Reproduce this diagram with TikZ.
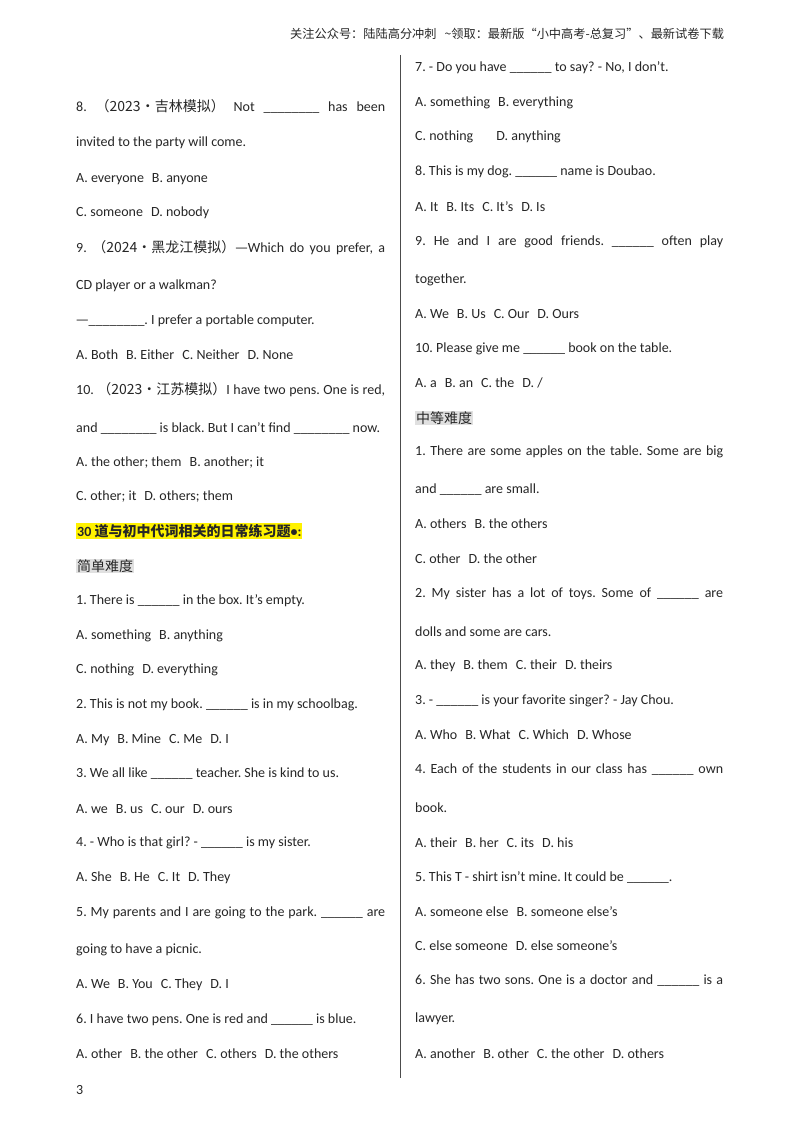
\documentclass[tikz,border=0pt]{standalone}
\usepackage{fontspec}
\setmainfont{Carlito}
\newfontfamily\cjk{Noto Sans CJK SC}
\newcommand{\g}{\hspace{8pt}}
\frenchspacing
\begin{document}
\begin{tikzpicture}[x=1pt,y=-1pt,
  t/.style={anchor=west,inner sep=0pt,font=\fontsize{14}{16}\selectfont,text=black!85},
  hl/.style={t,fill=yellow,inner sep=1pt},
  gr/.style={t,fill=black!12,inner sep=1pt}]
\fill[white] (0,0) rectangle (800,1132);
\draw[black!70,line width=0.6pt] (400,55) -- (400,1078);
\node[t,font=\fontsize{12.2}{14}\selectfont\cjk] (hd) at (290,34) {关注公众号：陆陆高分冲刺\hspace{8pt}{\textasciitilde}领取：最新版“小中高考-总复习”、最新试卷下载};
% left column
\node[t] (l1) at (76,106) {\makebox[309pt][s]{8. {\cjk （2023·吉林模拟）} Not \_\_\_\_\_\_\_\_ has been}};
\node[t] (l2) at (76,143) {invited to the party will come.};
\node[t] (l3) at (76,179) {A. everyone\g B. anyone};
\node[t] (l4) at (76,213) {C. someone\g D. nobody};
\node[t] (l5) at (76,248) {\makebox[309pt][s]{9. {\cjk （2024·黑龙江模拟）—}Which do you prefer, a}};
\node[t] (l6) at (76,286) {CD player or a walkman?};
\node[t] (l7) at (76,321) {{\cjk —}\_\_\_\_\_\_\_\_. I prefer a portable computer.};
\node[t] (l8) at (76,355) {A. Both\g B. Either\g C. Neither\g D. None};
\node[t] (l9) at (76,390) {\makebox[309pt][s]{10. {\cjk （2023·江苏模拟）}I have two pens. One is red,}};
\node[t] (l10) at (76,428) {and \_\_\_\_\_\_\_\_ is black. But I can't find \_\_\_\_\_\_\_\_ now.};
\node[t] (l11) at (76,463) {A. the other; them\g B. another; it};
\node[t] (l12) at (76,497) {C. other; it\g D. others; them};
\node[hl,font=\fontsize{14}{16}\selectfont\bfseries] (l13) at (76,531) {30 {\cjk\bfseries 道与初中代词相关的日常练习题}•:};
\node[gr,font=\fontsize{14}{16}\selectfont\cjk] (l14) at (76,566) {简单难度};
\node[t] (l15) at (76,601) {1. There is \_\_\_\_\_\_ in the box. It's empty.};
\node[t] (l16) at (76,636) {A. something\g B. anything};
\node[t] (l17) at (76,670) {C. nothing\g D. everything};
\node[t] (l18) at (76,705) {2. This is not my book. \_\_\_\_\_\_ is in my schoolbag.};
\node[t] (l19) at (76,740) {A. My\g B. Mine\g C. Me\g D. I};
\node[t] (l20) at (76,774) {3. We all like \_\_\_\_\_\_ teacher. She is kind to us.};
\node[t] (l21) at (76,809) {A. we\g B. us\g C. our\g D. ours};
\node[t] (l22) at (76,843) {4. - Who is that girl? - \_\_\_\_\_\_ is my sister.};
\node[t] (l23) at (76,878) {A. She\g B. He\g C. It\g D. They};
\node[t] (l24) at (76,913) {\makebox[309pt][s]{5. My parents and I are going to the park. \_\_\_\_\_\_ are}};
\node[t] (l25) at (76,950) {going to have a picnic.};
\node[t] (l26) at (76,985) {A. We\g B. You\g C. They\g D. I};
\node[t] (l27) at (76,1020) {6. I have two pens. One is red and \_\_\_\_\_\_ is blue.};
\node[t] (l28) at (76,1054) {A. other\g B. the other\g C. others\g D. the others};
\node[t] (pg) at (76,1090) {3};
% right column
\node[t] (r1) at (415,68) {7. - Do you have \_\_\_\_\_\_ to say? - No, I don't.};
\node[t] (r2) at (415,103) {A. something\g B. everything};
\node[t] (r3) at (415,137) {C. nothing\hspace{20pt} D. anything};
\node[t] (r4) at (415,172) {8. This is my dog. \_\_\_\_\_\_ name is Doubao.};
\node[t] (r5) at (415,207) {A. It\g B. Its\g C. It's\g D. Is};
\node[t] (r6) at (415,242) {\makebox[308pt][s]{9. He and I are good friends. \_\_\_\_\_\_ often play}};
\node[t] (r7) at (415,280) {together.};
\node[t] (r8) at (415,314) {A. We\g B. Us\g C. Our\g D. Ours};
\node[t] (r9) at (415,349) {10. Please give me \_\_\_\_\_\_ book on the table.};
\node[t] (r10) at (415,383) {A. a\g B. an\g C. the\g D. /};
\node[gr,font=\fontsize{14}{16}\selectfont\cjk] (r11) at (415,418) {中等难度};
\node[t] (r12) at (415,452) {\makebox[308pt][s]{1. There are some apples on the table. Some are big}};
\node[t] (r13) at (415,490) {and \_\_\_\_\_\_ are small.};
\node[t] (r14) at (415,524) {A. others\g B. the others};
\node[t] (r15) at (415,559) {C. other\g D. the other};
\node[t] (r16) at (415,594) {\makebox[308pt][s]{2. My sister has a lot of toys. Some of \_\_\_\_\_\_ are}};
\node[t] (r17) at (415,632) {dolls and some are cars.};
\node[t] (r18) at (415,666) {A. they\g B. them\g C. their\g D. theirs};
\node[t] (r19) at (415,701) {3. - \_\_\_\_\_\_ is your favorite singer? - Jay Chou.};
\node[t] (r20) at (415,735) {A. Who\g B. What\g C. Which\g D. Whose};
\node[t] (r21) at (415,770) {\makebox[308pt][s]{4. Each of the students in our class has \_\_\_\_\_\_ own}};
\node[t] (r22) at (415,808) {book.};
\node[t] (r23) at (415,843) {A. their\g B. her\g C. its\g D. his};
\node[t] (r24) at (415,877) {5. This T - shirt isn't mine. It could be \_\_\_\_\_\_.};
\node[t] (r25) at (415,912) {A. someone else\g B. someone else's};
\node[t] (r26) at (415,946) {C. else someone\g D. else someone's};
\node[t] (r27) at (415,981) {\makebox[308pt][s]{6. She has two sons. One is a doctor and \_\_\_\_\_\_ is a}};
\node[t] (r28) at (415,1019) {lawyer.};
\node[t] (r29) at (415,1054) {A. another\g B. other\g C. the other\g D. others};
\end{tikzpicture}
\end{document}
